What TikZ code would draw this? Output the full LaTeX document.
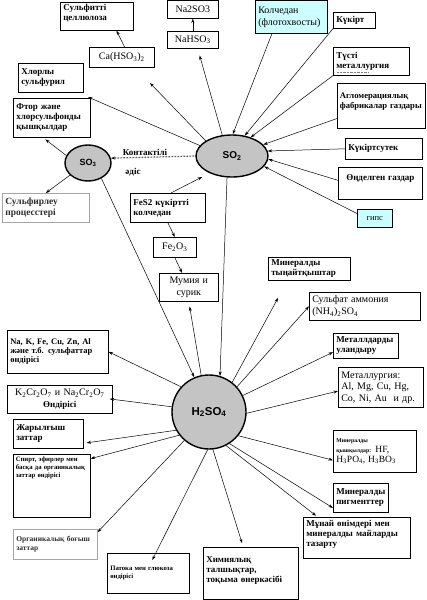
\documentclass[tikz,border=0pt]{standalone}
\usepackage{fontspec}
\setmainfont{Liberation Serif}
\newfontfamily\oxsans{Liberation Sans}
\usetikzlibrary{arrows.meta,shapes.geometric}

\definecolor{oxgray}{HTML}{C4C4C4}
\definecolor{paleCyan}{HTML}{CCFFFF}

% empty depth under the last line of a box, lifts the text up
\newcommand\padbelow[1]{\rule[-#1]{0pt}{#1}}

\tikzset{
  box/.style={draw, line width=0.6pt, anchor=north west, inner xsep=3pt, inner ysep=1.5pt,
    align=left, font=\fontsize{9}{10}\selectfont\bfseries},
  regtext/.style={font=\fontsize{10}{12}\selectfont},
  smalltext/.style={font=\fontsize{6.7}{7.7}\selectfont\bfseries},
  faded/.style={draw=gray!70, text=gray!35!black},
  oxide/.style={ellipse, draw, line width=1.4pt, fill=oxgray, inner sep=0pt},
  arr/.style={-{Stealth[length=4.5pt,width=3pt]}, line width=0.5pt},
}

\begin{document}
\begin{tikzpicture}[x=1pt,y=-1pt]
\useasboundingbox (0,0) rectangle (427,600);

% --------------------
% Oxides
% --------------------
\node[oxide, minimum width=72pt, minimum height=42pt,
  font=\oxsans\bfseries\fontsize{10}{12}\selectfont] (so2) at (232,156) {SO\textsubscript{2}};
\node[oxide, minimum width=46pt, minimum height=36pt,
  font=\oxsans\bfseries\fontsize{9}{11}\selectfont] (so3) at (88,163) {SO\textsubscript{3}};
\node[oxide, circle, minimum size=74pt,
  font=\oxsans\bfseries\fontsize{11.5}{13}\selectfont] (h2) at (209,412) {H\textsubscript{2}SO\textsubscript{4}};

% --------------------
% Top boxes
% --------------------
\node[box, text width=67pt, minimum height=28pt] (sulfcell) at (60,2) {Сульфитті\\целлюлоза\padbelow{7pt}};
\node[box, regtext, align=center, text width=45pt, minimum height=18pt] (na2so3) at (167,0) {Na2SO3};
\node[box, regtext, align=center, text width=45pt, minimum height=17pt] (nahso3) at (167,31) {NaHSO\textsubscript{3}};
\node[box, regtext, align=center, text width=59pt, minimum height=20pt] (ca) at (89,47) {Ca(HSO\textsubscript{3})\textsubscript{2}};
\node[box, regtext, fill=paleCyan, text width=66pt, minimum height=33pt] (kolch) at (255,0) {Колчедан\\(флотохвосты)};
\node[box, text width=36pt, minimum height=16pt] (kukirt) at (333,12) {Күкірт};
\node[box, text width=70pt, minimum height=28pt] (tusti) at (333,47) {Түсті\\металлургия};
\node[box, font=\fontsize{8.6}{10}\selectfont\bfseries, inner xsep=2.5pt, text width=83pt, minimum height=45pt] (aglo) at (337,83)
  {Агломерациялық\\фабрикалар газдары\padbelow{10pt}};
\node[box, text width=59pt, minimum height=29pt] (chlor) at (18,63) {Хлорлы\\сульфурил};
\node[box, text width=71pt, minimum height=39pt] (ftor) at (13,98) {Фтор және\\хлорсульфонды\\қышқылдар};

% --------------------
% Middle boxes
% --------------------
\node[box, faded, font=\fontsize{9.5}{10.5}\selectfont\bfseries, text width=81pt, minimum height=29pt] (sulfir) at (2,193) {Сульфирлеу\\процесстері};
\node[box, text width=69pt, minimum height=29pt] (fes2) at (130,193) {FeS2 күкіртті\\колчедан};
\node[box, regtext, align=center, text width=37pt, minimum height=20pt] (fe2o3) at (153,237) {Fe\textsubscript{2}O\textsubscript{3}};
\node[box, regtext, align=center, text width=53pt, minimum height=28pt] (mumiya) at (159,273) {Мумия и\\сурик};
\node[box, text width=71pt, minimum height=21pt] (kuksut) at (345,138) {Күкіртсутек};
\node[box, align=center, text width=78pt, minimum height=32pt] (ondel) at (338,167) {Өңделген газдар\padbelow{12pt}};
\node[box, regtext, fill=paleCyan, align=center, text width=29pt, minimum height=18pt,
  font=\fontsize{8.5}{10}\selectfont] (gips) at (357,209) {гипс};

\node[font=\fontsize{9}{10}\selectfont\bfseries] (kontakt) at (145,152) {Контактілі};
\node[font=\fontsize{9}{10}\selectfont\bfseries] (adis) at (133,172) {әдіс};

% --------------------
% Right boxes
% --------------------
\node[box, text width=76pt, minimum height=23pt] (miner) at (268,257) {Минералды\\тыңайтқыштар};
\node[box, regtext, text width=105pt, minimum height=28pt] (ammon) at (309,292) {Сульфат аммония\\(NH\textsubscript{4})\textsubscript{2}SO\textsubscript{4}};
\node[box, text width=59pt, minimum height=25pt] (metal) at (333,333) {Металлдарды\\уландыру};
\node[box, regtext, font=\fontsize{10}{11.5}\selectfont, text width=79pt, minimum height=40pt] (metallurgy) at (338,367)
  {Металлургия:\\Al, Mg, Cu, Hg,\\Co, Ni, Au\ \ и др.};
\node[box, font=\fontsize{8.5}{10}\selectfont\bfseries, text width=77pt, minimum height=42pt] (minacid) at (333,430)
  {{\fontsize{5.8}{7}\selectfont Минералды}\\{\fontsize{5.8}{7}\selectfont қышқылдар:}
   {\mdseries\fontsize{9.5}{11}\selectfont HF,}\\{\mdseries\fontsize{9.5}{11}\selectfont H\textsubscript{3}PO\textsubscript{4}, H\textsubscript{3}BO\textsubscript{3}}};
\node[box, text width=49pt, minimum height=29pt] (pigment) at (333,483) {Минералды\\пигменттер};
\node[box, text width=101pt, minimum height=41pt] (munai) at (303,517) {Мұнай өнімдері мен\\минералды майларды\\тазарту\padbelow{9pt}};
\node[box, text width=89pt, minimum height=52pt] (himiya) at (203,547) {Химиялық\\талшықтар,\\тоқыма өнеркәсібі\padbelow{8pt}};

% --------------------
% Left boxes
% --------------------
\node[box, smalltext, text width=76pt, minimum height=40pt] (patoka) at (107,553) {Патока мен глюкоза\\өндірісі};
\node[box, faded, font=\fontsize{7.5}{9}\selectfont\bfseries, text width=78pt, minimum height=30pt] (organ) at (13,529) {Органикалық боғыш\\заттар};
\node[box, smalltext, inner xsep=2.5pt, text width=72pt, minimum height=63pt] (spirt) at (13,454)
  {Спирт, эфирлер мен\\басқа да органикалық\\заттар өндірісі\padbelow{37pt}};
\node[box, text width=64pt, minimum height=29pt] (zhar) at (13,419) {Жарылғыш\\заттар};
\node[box, regtext, align=center, text width=99pt, minimum height=28pt] (k2cr) at (7,385)
  {K\textsubscript{2}Cr\textsubscript{2}O\textsubscript{7} и Na\textsubscript{2}Cr\textsubscript{2}O\textsubscript{7}\\{\bfseries\fontsize{9}{10}\selectfont Өндірісі}};
\node[box, font=\fontsize{8.5}{9}\selectfont\bfseries, text width=95pt, minimum height=43pt] (nak) at (7,330)
  {Na, K, Fe, Cu, Zn, Al\\және т.б. сульфаттар\\өндірісі};

% free arrow ends
\coordinate (caend) at (150,83);
\coordinate (chlend) at (88,97);
\coordinate (fesend) at (202,177);
\coordinate (minerend) at (278,298);

% dotted mark under the word
\draw[gray, densely dotted] (337,72) -- (368,72);

% --------------------
% Into SO2
% --------------------
\draw[arr] (kolch.221) -- (so2.88);
\draw[arr] (kukirt.south west) -- (so2.58);
\draw[arr] (tusti.south west) -- (so2.45);
\draw[arr] (aglo.196) -- (so2.20);
\draw[arr] (kuksut.west) -- (so2.8);
\draw[arr] (ondel.176) -- (so2.-5);
\draw[arr] (gips.165) -- (so2.-18);
\draw[arr] (fes2.78) -- (fesend);

% --------------------
% From SO2 and SO3
% --------------------
\draw[arr, shorten >=7pt] (so2.115) -- (nahso3.-61);
\draw[arr] (nahso3.north) -- (na2so3.south);
\draw[arr] (so2.150) -- (caend);
\draw[arr] (ca.75) -- (sulfcell.-36);
\draw[arr] (so2.162) -- (chlend);
\draw[arr, densely dotted, line width=1.2pt] (so2.west) -- (so3.12);
\draw[arr] (so2.-103) -- (h2.73);

\draw[arr, shorten >=3pt] (so3.161) -- (ftor.-114);
\draw[arr] (so3.214) -- (sulfir.north);
\draw[arr] (so3.-49) -- (h2.113);

\draw[arr] (fes2.south) -- (fe2o3.north);
\draw[arr] (fe2o3.south) -- (mumiya.115);

% --------------------
% From H2SO4
% --------------------
\draw[arr, shorten >=5pt] (h2.102) -- (mumiya.south);
\draw[arr] (h2.52) -- (minerend);
\draw[arr] (h2.42) -- (ammon.west);
\draw[arr] (h2.26) -- (metal.191);
\draw[arr] (h2.-2) -- (metallurgy.185);
\draw[arr] (h2.-39) -- (minacid.192);
\draw[arr] (h2.-57) -- (pigment.200);
\draw[arr, shorten >=2pt] (h2.-63) -- (munai.152);
\draw[arr, shorten >=4pt] (h2.-84) -- (himiya.106);
\draw[arr] (h2.-92) -- ([xshift=4pt,yshift=-7pt]patoka.north);
\draw[arr] (h2.229) -- (organ.16);
\draw[arr] (h2.218) -- (spirt.35);
\draw[arr, shorten >=3pt] (h2.209) -- (zhar.-15);
\draw[arr, shorten >=-3pt] (h2.172) -- (k2cr.east);
\draw[arr] (h2.138) -- (nak.east);

\end{tikzpicture}
\end{document}
